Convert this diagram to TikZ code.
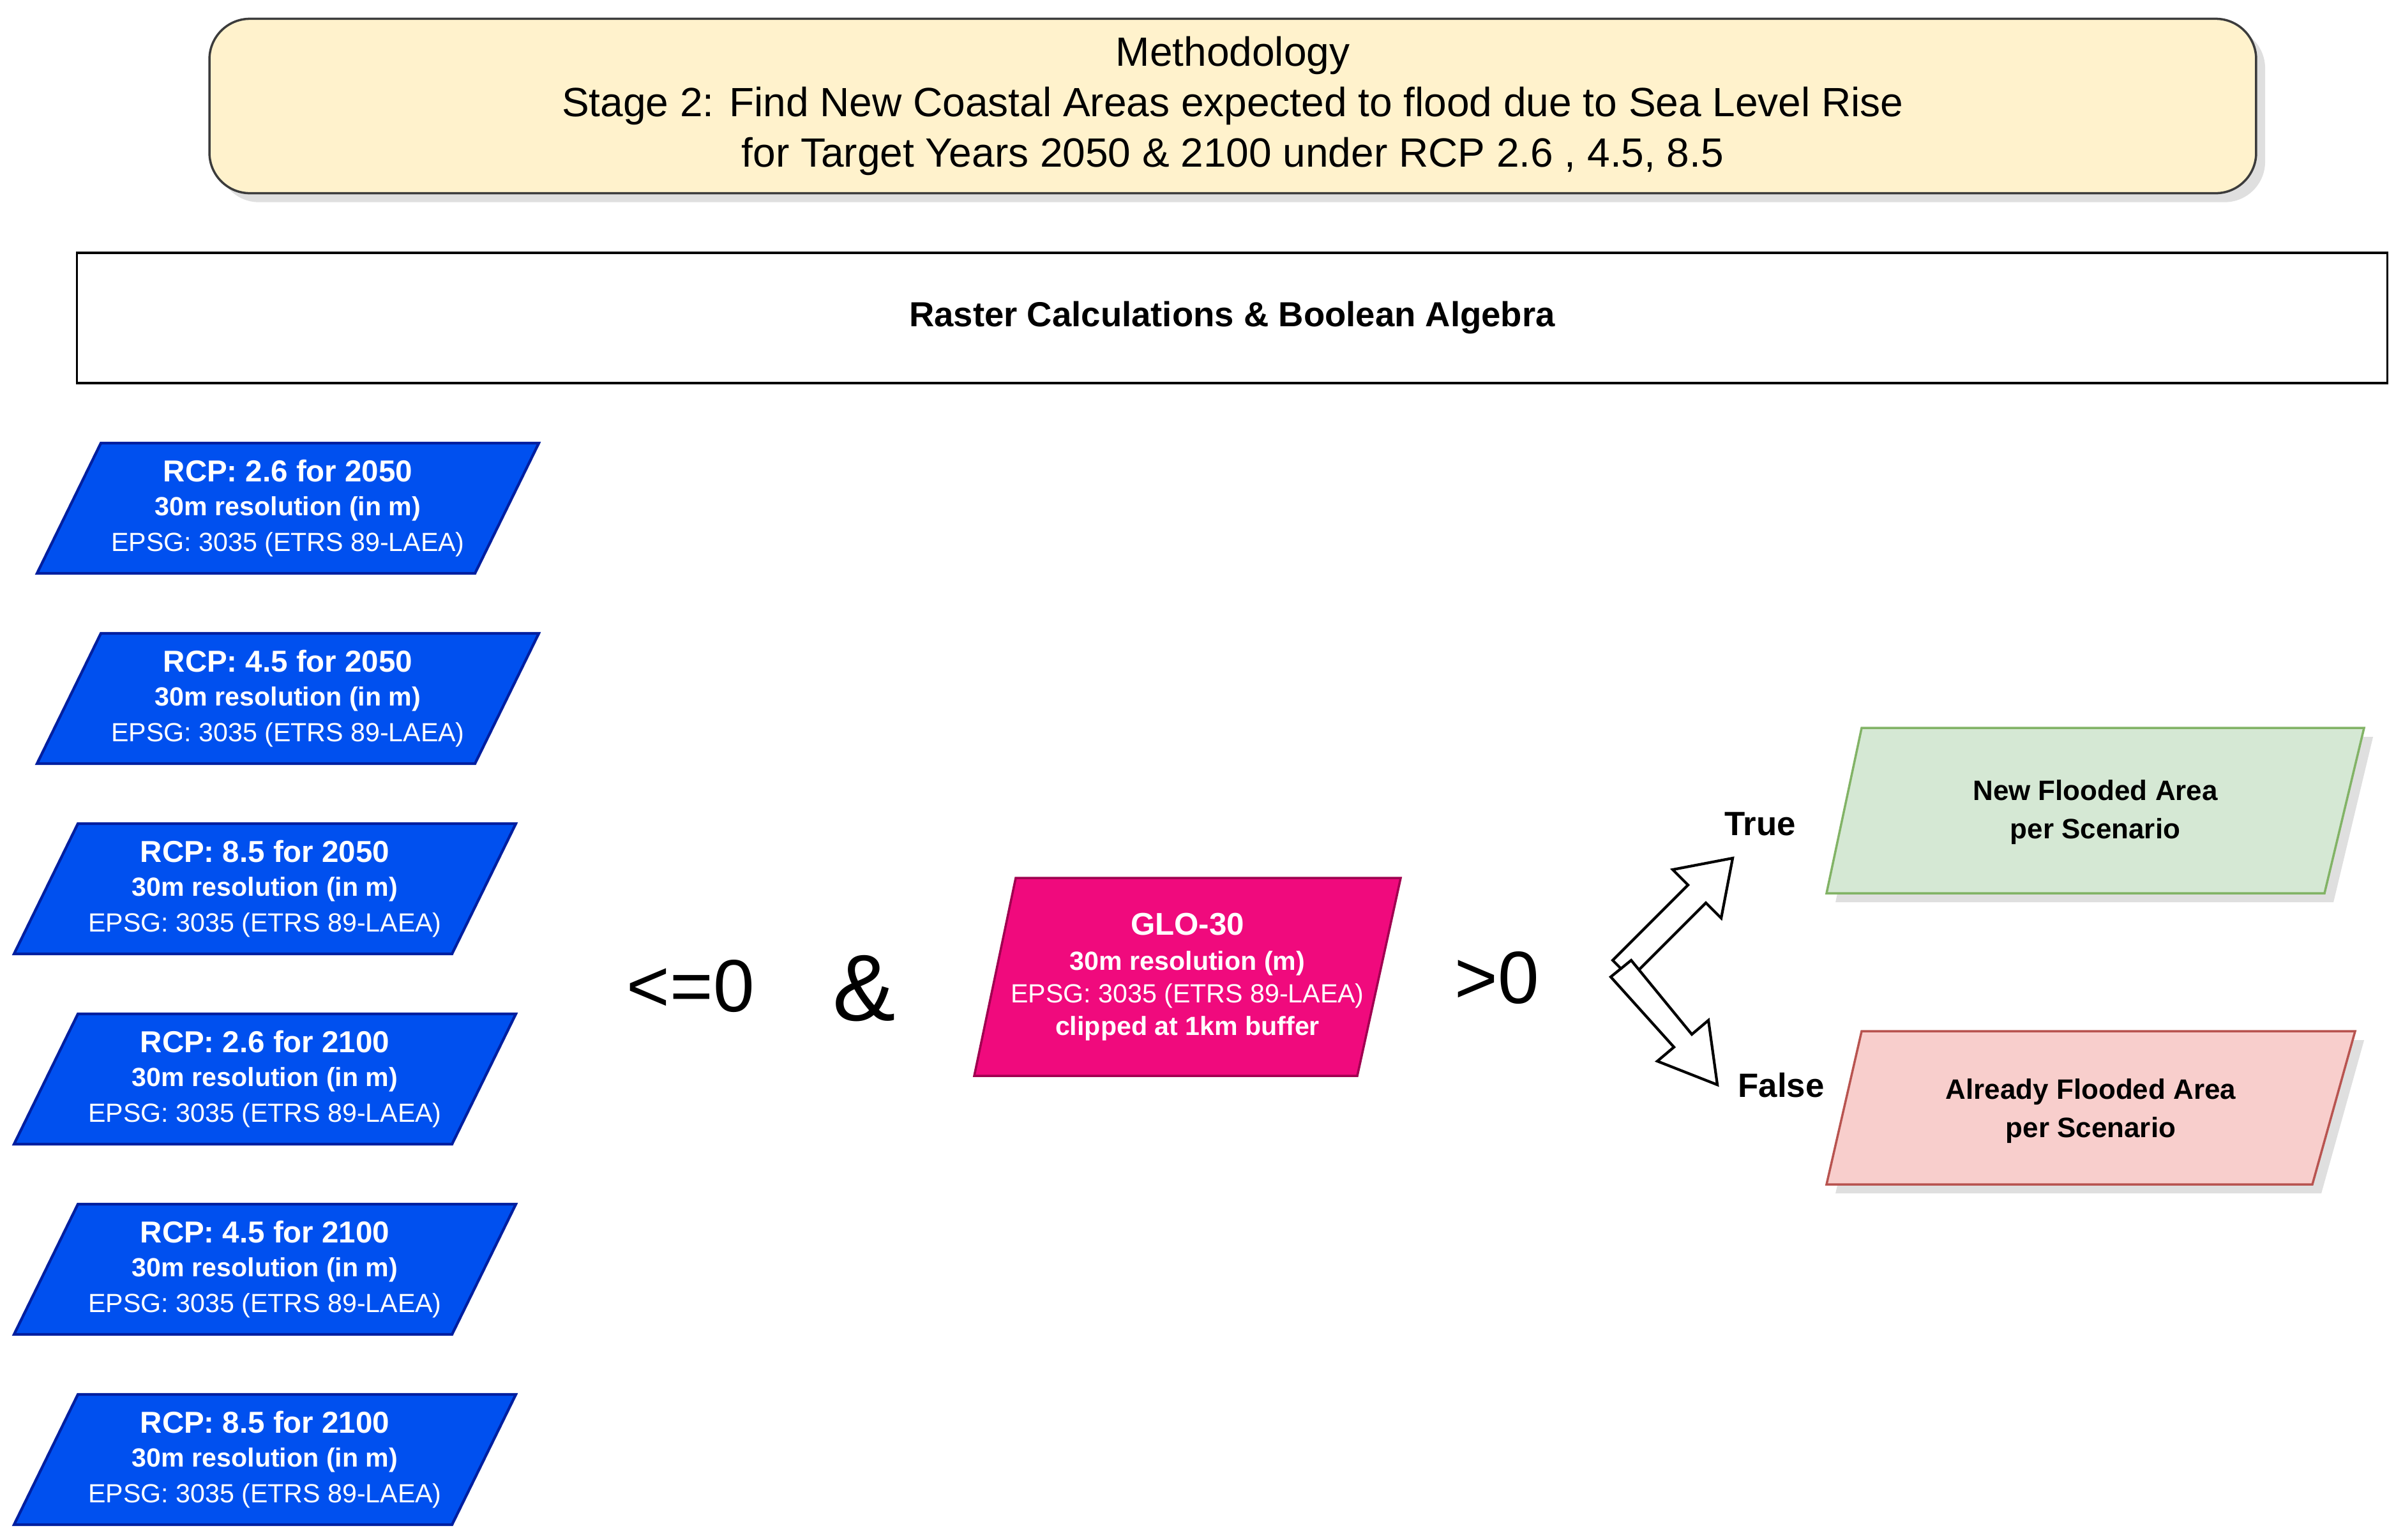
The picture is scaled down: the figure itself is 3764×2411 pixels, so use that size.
\documentclass[tikz,border=0pt]{standalone}
\usepackage{fontspec}
\setmainfont{Liberation Sans}
\usetikzlibrary{shadows}
\definecolor{ttl}{RGB}{255,242,204}
\definecolor{ttlb}{RGB}{60,60,60}
\definecolor{rcp}{RGB}{0,80,239}
\definecolor{rcpb}{RGB}{0,31,160}
\definecolor{glo}{RGB}{240,10,125}
\definecolor{glob}{RGB}{160,0,80}
\definecolor{gf}{RGB}{213,232,212}
\definecolor{gb}{RGB}{130,179,102}
\definecolor{rf}{RGB}{248,206,204}
\definecolor{rb}{RGB}{184,84,80}
\tikzset{
  rcpbox/.style={fill=rcp,draw=rcpb,line width=1.2pt},
  txt/.style={align=center,inner sep=0pt},
  wt/.style={txt,text=white,font=\fontsize{11.7}{16}\selectfont},
  shd/.style={drop shadow={shadow xshift=4pt,shadow yshift=-4pt,opacity=0.25}}
}
% #1 top y, #2 bottom y, #3 top-left x, #4 top-right x, #5 bottom-left x, #6 bottom-right x, #7 style
\newcommand\plg[7]{\path[#7] (#3,#1)--(#4,#1)--(#6,#2)--(#5,#2)--cycle;}
\newcommand\rcpitem[5]{%
  \plg{#1}{#1+204}{#2+100}{#2+786}{#2}{#2+686}{rcpbox}
  \node[wt] (#4) at (#2+393,#1+102) {{\bfseries\fontsize{13.5}{16}\selectfont #3}\\[-1pt]\textbf{30m resolution (in m)}\\EPSG: 3035 (ETRS 89-LAEA)};
  \coordinate (#5) at (#2+393,#1+102);}
\begin{document}
\begin{tikzpicture}[x=0.01cm,y=-0.01cm]
\useasboundingbox (0,0) rectangle (3764,2411);
% title
\node[draw=ttlb,fill=ttl,rounded corners=18pt,line width=1pt,shd,
  minimum width=32.04cm,minimum height=2.73cm,txt,font=\fontsize{18.2}{22.5}\selectfont] (title) at (1931,166)
  {Methodology\\Stage 2: Find New Coastal Areas expected to flood due to Sea Level Rise\\for Target Years 2050 \& 2100 under RCP 2.6 , 4.5, 8.5};
% raster
\node[draw=black,line width=1pt,minimum width=36.17cm,minimum height=2.04cm,txt,font=\bfseries\fontsize{15.5}{17}\selectfont] (raster) at (1930,498)
  {Raster Calculations \& Boolean Algebra};
% RCP items
\rcpitem{694}{58}{RCP: 2.6 for 2050}{r1}{c1}
\rcpitem{992}{58}{RCP: 4.5 for 2050}{r2}{c2}
\rcpitem{1290}{22}{RCP: 8.5 for 2050}{r3}{c3}
\rcpitem{1588}{22}{RCP: 2.6 for 2100}{r4}{c4}
\rcpitem{1886}{22}{RCP: 4.5 for 2100}{r5}{c5}
\rcpitem{2184}{22}{RCP: 8.5 for 2100}{r6}{c6}
% operators
\node[txt,font=\fontsize{33}{36}\selectfont] (le) at (1082,1545) {<=0};
\node[txt,font=\fontsize{42}{44}\selectfont] (amp) at (1354,1548) {\&};
\node[txt,font=\fontsize{33}{36}\selectfont] (gt) at (2345,1532) {>0};
% GLO-30
\plg{1375}{1685}{1591}{2194}{1526}{2126}{fill=glo,draw=glob,line width=1pt}
\node[wt,font=\fontsize{11.7}{14.5}\selectfont] (glo) at (1860,1530)
  {{\bfseries\fontsize{14}{16}\selectfont GLO-30}\\[1pt]\textbf{30m resolution (m)}\\EPSG: 3035 (ETRS 89-LAEA)\\\textbf{clipped at 1km buffer}};
% branch arrows
\coordinate (o) at (2539,1517);
\draw[line width=1.2pt,fill=white,line join=miter] (2554,1532)--(2672,1414)--(2696,1438)--(2714,1344)--(2620,1362)--(2644,1386)--(2526,1504)--cycle;
\draw[line width=1.2pt,fill=white,line join=miter] (2555,1504)--(2650,1620)--(2676,1598)--(2690,1699)--(2596,1662)--(2622,1640)--(2523,1530)--cycle;
\node[txt,font=\bfseries\fontsize{15}{18}\selectfont] (true) at (2757,1291) {True};
\node[txt,font=\bfseries\fontsize{15}{18}\selectfont] (false) at (2790,1700) {False};
% outcomes
\plg{1140}{1399}{2916}{3703}{2861}{3641}{fill=gf,draw=gb,line width=1pt,shd}
\node[txt,font=\bfseries\fontsize{12.5}{17}\selectfont] (new) at (3282,1272) {New Flooded Area\\per Scenario};
\plg{1615}{1855}{2916}{3689}{2861}{3622}{fill=rf,draw=rb,line width=1pt,shd}
\node[txt,font=\bfseries\fontsize{12.5}{17}\selectfont] (old) at (3275,1740) {Already Flooded Area\\per Scenario};
\end{tikzpicture}
\end{document}
